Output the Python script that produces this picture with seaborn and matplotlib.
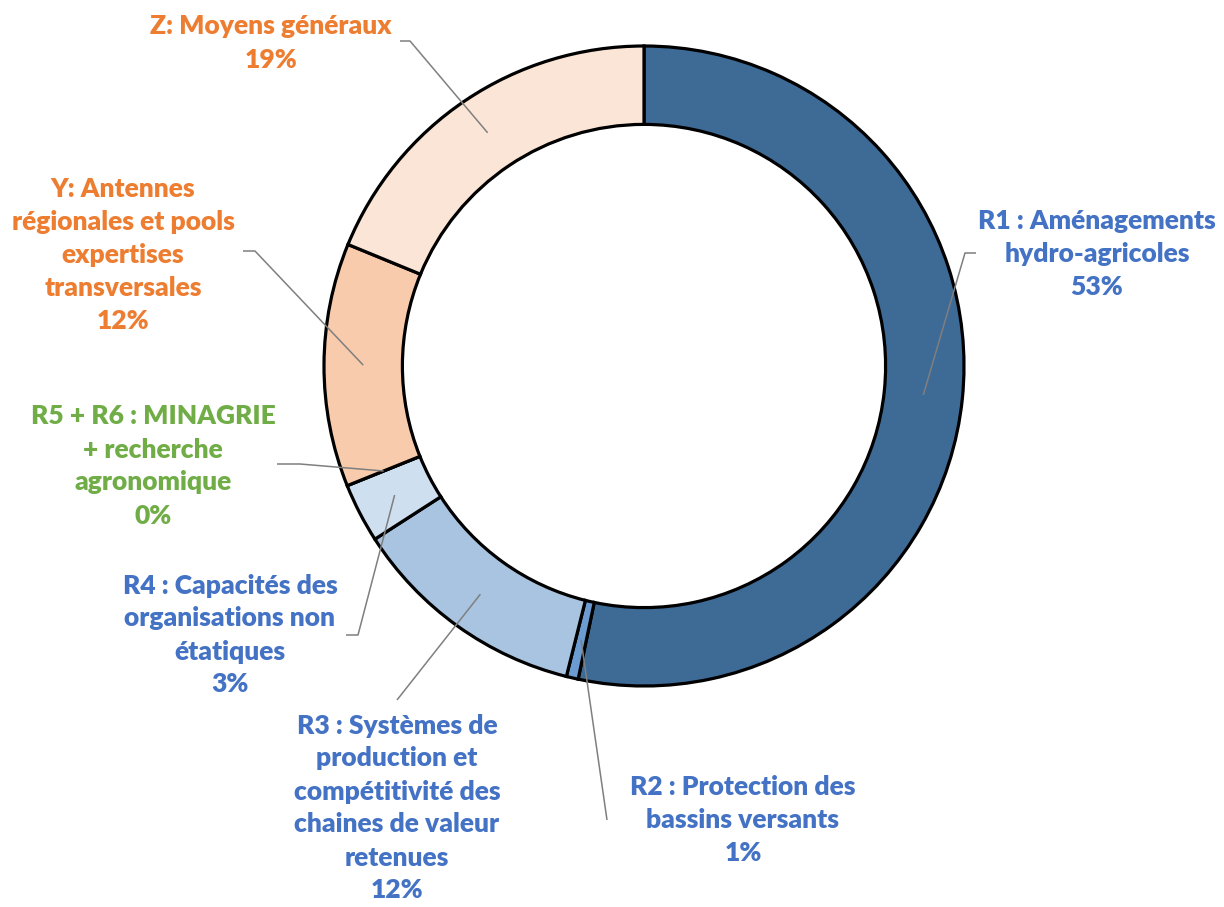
import numpy as np
import matplotlib
matplotlib.use("Agg")
import matplotlib.pyplot as plt
import seaborn as sns

# ---- data ----
categories = [
    "R1 : Aménagements\nhydro-agricoles",
    "R2 : Protection des\nbassins versants",
    "R3 : Systèmes de\nproduction et\ncompétitivité des\nchaines de valeur\nretenues",
    "R4 : Capacités des\norganisations non\nétatiques",
    "R5 + R6 : MINAGRIE\n+ recherche\nagronomique",
    "Y: Antennes\nrégionales et pools\nexpertises\ntransversales",
    "Z: Moyens généraux",
]
shares = [53.3, 0.6, 12.0, 3.0, 0.0, 12.3, 18.8]
slice_colors = ["#3E6A96", "#6B9BD1", "#A9C4E0", "#CEDFF0", "#C5E0B4", "#F8CBAD", "#FBE5D6"]
label_colors = ["#4472C4", "#4472C4", "#4472C4", "#4472C4", "#70AD47", "#ED7D31", "#ED7D31"]

# ---- layout (pixel-like coordinates, y up) ----
W, H = 1224, 907
center = (644, H - 366)
R = 320
ring_w = 0.245

# label centers (x, y from top) and leader start points
label_pos = [(1097, 254), (743, 820), (397, 808), (230, 635), (153, 466), (123, 255), (271, 43)]
leader_start = [(976, 253), (607, 820), (397, 700), (346, 635), (277, 464), (243, 251), (400, 41)]
leader_hook = [(965, 253), (607, 820), (397, 700), (358, 635), (300, 464), (255, 251), (410, 41)]

sns.set_theme(style="white")
plt.rcParams['font.family'] = ['Lato', 'DejaVu Sans']

fig = plt.figure(figsize=(W / 100, H / 100), dpi=100)
ax = fig.add_axes([0, 0, 1, 1])

wedges, _ = ax.pie(
    shares, colors=slice_colors, startangle=90, counterclock=False,
    center=center, radius=R, frame=True,
    wedgeprops=dict(width=R * ring_w, edgecolor="black", linewidth=2.3),
)
ax.set_xlim(0, W)
ax.set_ylim(0, H)
ax.set_aspect("equal")
ax.axis("off")

total = sum(shares)
cum = np.cumsum([0] + shares)
r_mid = R * (1 - ring_w / 2)
for i, (cat, val) in enumerate(zip(categories, shares)):
    mid = (cum[i] + cum[i + 1]) / 2 / total * 360.0  # clockwise from top
    theta = np.deg2rad(90 - mid)
    ex = center[0] + r_mid * np.cos(theta)
    ey = center[1] + r_mid * np.sin(theta)
    sx, sy = leader_start[i]
    hx, hy = leader_hook[i]
    ax.plot([sx, hx, ex], [H - sy, H - hy, ey], color="#7F7F7F", lw=1.1, zorder=5,
            solid_capstyle="butt")
    lx, ly = label_pos[i]
    ax.text(lx, H - ly, f"{cat}\n{round(val)}%", ha="center", va="center",
            multialignment="center", color=label_colors[i], fontsize=19,
            fontweight="heavy", linespacing=1.45)

fig.savefig("out.png", dpi=100, facecolor="white")
